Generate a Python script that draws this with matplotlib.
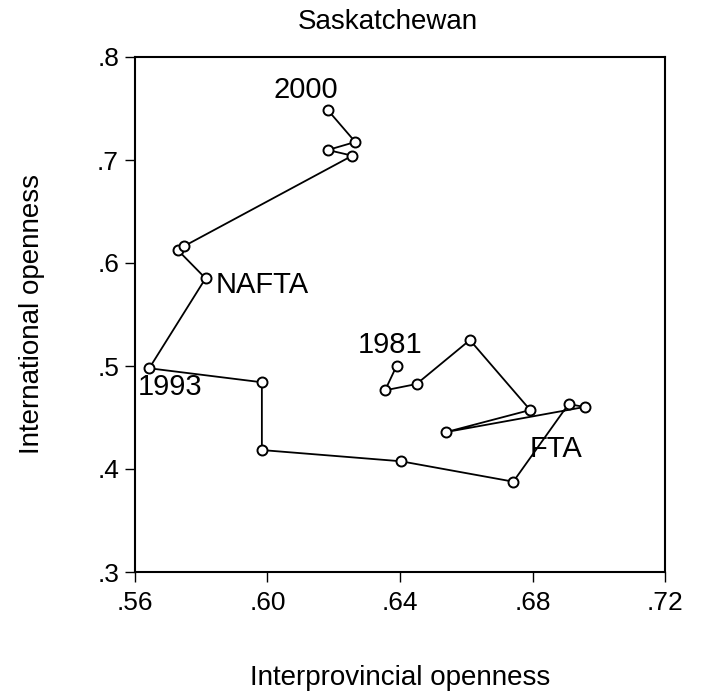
import matplotlib
matplotlib.use("Agg")
import matplotlib.pyplot as plt
from matplotlib.ticker import FuncFormatter

plt.rcParams['font.family'] = ['Liberation Sans', 'DejaVu Sans']

# Saskatchewan, 1981-2000
years = list(range(1981, 2001))
interprov = [0.6390, 0.6355, 0.6450, 0.6611, 0.6793, 0.6540, 0.6957, 0.6909,
             0.6742, 0.6403, 0.5983, 0.5983, 0.5643, 0.5813, 0.5729, 0.5749,
             0.6256, 0.6182, 0.6265, 0.6182]
internat = [0.5003, 0.4764, 0.4825, 0.5252, 0.4573, 0.4359, 0.4602, 0.4631,
            0.3877, 0.4075, 0.4184, 0.4842, 0.4978, 0.5851, 0.6126, 0.6165,
            0.7042, 0.7097, 0.7175, 0.7485]

# text labels on the path: (text, x, y baseline, ha)
labels = [('2000', 0.6115, 0.7599, 'center'),
          ('NAFTA', 0.5842, 0.5709, 'left'),
          ('1993', 0.5707, 0.4718, 'center'),
          ('1981', 0.6371, 0.5123, 'center'),
          ('FTA', 0.6870, 0.4120, 'center')]

xticks = [0.56, 0.60, 0.64, 0.68, 0.72]
yticks = [0.3, 0.4, 0.5, 0.6, 0.7, 0.8]

W, H = 702, 694
fig = plt.figure(figsize=(W / 100, H / 100), dpi=100)
ax = fig.add_axes([135 / W, 1 - 572 / H, 530 / W, 515 / H])

ax.plot(interprov, internat, color='black', lw=1.3, marker='o', ms=7.2,
        mfc='white', mec='black', mew=1.4, zorder=3)

for txt, x, y, ha in labels:
    ax.text(x, y, txt, fontsize=21, ha=ha, va='baseline', zorder=2)

ax.set_xlim(0.56, 0.72)
ax.set_ylim(0.3, 0.8)
ax.set_xticks(xticks)
ax.set_yticks(yticks)
ax.xaxis.set_major_formatter(FuncFormatter(lambda v, p: ('%.2f' % v).lstrip('0')))
ax.yaxis.set_major_formatter(FuncFormatter(lambda v, p: ('%.1f' % v).lstrip('0')))
ax.tick_params(direction='out', length=7.5, width=1, labelsize=19)
ax.tick_params(axis='x', pad=6)
ax.tick_params(axis='y', pad=4)
for s in ax.spines.values():
    s.set_linewidth(1.5)

fig.text(388 / W, 1 - 29 / H, 'Saskatchewan', fontsize=20, ha='center', va='baseline')
fig.text(400 / W, 1 - 685 / H, 'Interprovincial openness', fontsize=20,
         ha='center', va='baseline')
fig.text(32 / W, 1 - 314 / H, 'International openness', fontsize=20,
         ha='center', va='center', rotation=90)

fig.savefig('out.png', dpi=100)
